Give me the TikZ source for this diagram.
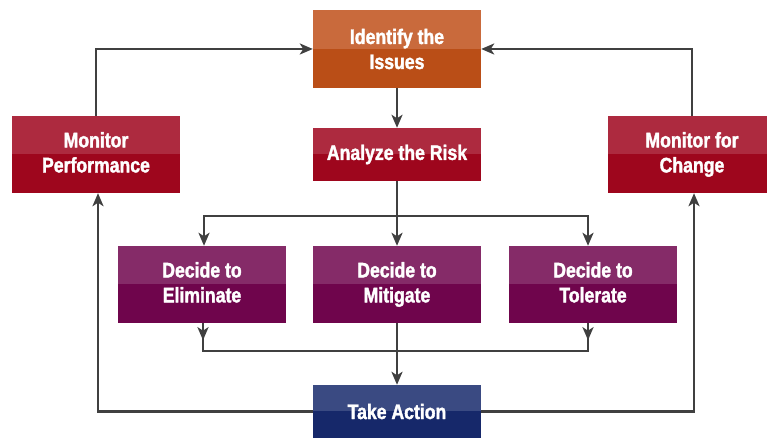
\documentclass[tikz,border=0pt]{standalone}
\usepackage{fontspec}
\newfontfamily\cond[FakeStretch=0.84, BoldFeatures={FakeBold=1.7}]{Liberation Sans}
\usetikzlibrary{arrows.meta}
\definecolor{idT}{HTML}{C96A3C}
\definecolor{idB}{HTML}{BA4E17}
\definecolor{rdT}{HTML}{AD2A3F}
\definecolor{rdB}{HTML}{9E061D}
\definecolor{puT}{HTML}{852B68}
\definecolor{puB}{HTML}{6F054C}
\definecolor{blT}{HTML}{3A4A82}
\definecolor{blB}{HTML}{16286A}
\definecolor{ln}{HTML}{404040}
\tikzset{
  box/.style 2 args={draw=none, fill=#2, text=white, align=center,
    font=\cond\bfseries\fontsize{21}{25}\selectfont,
    minimum width=168pt, inner sep=0pt,
    path picture={\fill[#1] (path picture bounding box.north west) rectangle (path picture bounding box.east);}},
  tall/.style={minimum height=77pt},
  short/.style={minimum height=53pt},
  conn/.style={draw=ln, line width=2.4pt},
  arr/.style={conn, -{Stealth[length=13pt,width=11pt,inset=3.5pt]}}
}
\begin{document}
\begin{tikzpicture}[x=1pt,y=1pt]
\useasboundingbox (0,0) rectangle (767,438);
\fill[white] (0,0) rectangle (767,438);
\node[box={idT}{idB}, minimum height=78pt] (id) at (397,389) {Identify the\\Issues};
\node[box={rdT}{rdB}, short] (an) at (397,283.5) {Analyze the Risk};
\node[box={rdT}{rdB}, tall] (mp) at (96,283.5) {Monitor\\Performance\vphantom{g}};
\node[box={rdT}{rdB}, tall] (mc) at (692,283.5) {Monitor for\\Change};
\node[box={puT}{puB}, tall] (de) at (202,153.5) {Decide to\\Eliminate\vphantom{g}};
\node[box={puT}{puB}, tall] (dm) at (397,153.5) {Decide to\\Mitigate};
\node[box={puT}{puB}, tall] (dt) at (593,153.5) {Decide to\\Tolerate\vphantom{g}};
\node[box={blT}{blB}, short] (ta) at (397,26.5) {Take Action};
\coordinate (bj) at (397,222);
\coordinate (mj) at (397,87);
% top connections
\draw[arr] (id.south) -- (an.north);
\draw[arr] (mp.north) |- (id.west);
\draw[arr] (mc.north) |- (id.east);
% branch
\draw[arr] (an.south) -- (dm.north);
\draw[arr] (bj) -| ([xshift=2pt]de.north);
\draw[arr] (bj) -| ([xshift=-5pt]dt.north);
% merge
\draw[conn] ([xshift=1pt]de.south) |- (mj);
\draw[conn] ([xshift=-5pt]dt.south) |- (mj);
\draw[arr] ([xshift=1pt]de.south) -- ++(0,-17);
\draw[arr] ([xshift=-5pt]dt.south) -- ++(0,-17);
\draw[arr] (dm.south) -- (ta.north);
% bottom loops
\draw[arr] (ta.west) -| ([xshift=2pt]mp.south);
\draw[arr] (ta.east) -| ([xshift=2pt]mc.south);
\end{tikzpicture}
\end{document}
